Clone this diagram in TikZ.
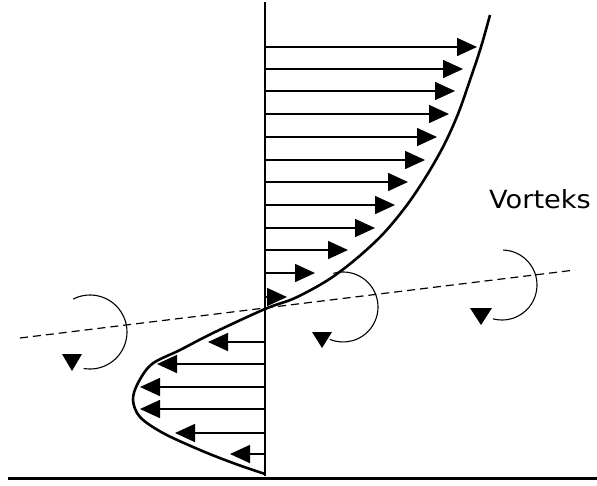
\documentclass[tikz,border=0pt]{standalone}
\usepackage{fontspec}
\newfontfamily\labelfont{DejaVu Sans}
\usetikzlibrary{arrows.meta}

\begin{document}
\begin{tikzpicture}[x=1pt, y=-1pt,
        flow/.style={-{Triangle[length=20pt, width=18pt]}, line width=1.6pt},
        profile/.style={line width=2.6pt, line join=round},
        vortex/.style={line width=1.1pt},
        vtip/.style={fill=black}]
        \useasboundingbox (0,0) rectangle (597,485);

        % Wall and axis
        \coordinate (top) at (265,2);
        \coordinate (foot) at (265,476);
        \coordinate (wallL) at (8,478);
        \coordinate (wallR) at (597,478);
        \draw [line width=3pt] (wallL) -- (wallR);
        \draw [line width=1.6pt] (top) -- (foot);

        % Velocity profile
        \draw [profile] plot[smooth, tension=0.55] coordinates {(490,15) (481,47) (470,80) (458,114) (444,145) (427,175) (407,205) (383,234) (356,259) (328,280) (295,298) (265,309) (213,333) (180,350) (152,364) (138,383) (133,400) (140,417) (163,433) (200,450) (233,463) (265,474)};

        % Forward flow
        \foreach \y/\x in {47/477, 69/463, 91/455, 114/449, 137/437, 160/425, 182/408, 205/395, 228/375, 250/348, 273/315, 297/287}
            \draw [flow] (265,\y) -- (\x,\y);

        % Backward flow
        \foreach \y/\x in {342/208, 364/157, 387/140, 409/140, 433/175, 454/230}
            \draw [flow] (265,\y) -- (\x,\y);

        % Axis of the vortices
        \coordinate (dl) at (20,338);
        \coordinate (dr) at (575,270);
        \draw [dash pattern=on 8pt off 5pt, line width=1.2pt] (dl) -- (dr);

        % Vortices
        \draw [vortex] (90,332) ++(-117:37) arc[start angle=-117, end angle=100, radius=37];
        \fill [vtip] (62,354) -- (82,354) -- (72,371) -- cycle;
        \draw [vortex] (343,307) ++(-106:35) arc[start angle=-106, end angle=112, radius=35];
        \fill [vtip] (312,332) -- (332,332) -- (322,348) -- cycle;
        \draw [vortex] (502,285) ++(-88:35) arc[start angle=-88, end angle=105, radius=35];
        \fill [vtip] (470,308) -- (492,308) -- (481,325) -- cycle;

        % Label
        \node [font=\labelfont\fontsize{25}{30}\selectfont, xscale=1.09] (vlabel) at (540,199) {Vorteks};
\end{tikzpicture}
\end{document}
